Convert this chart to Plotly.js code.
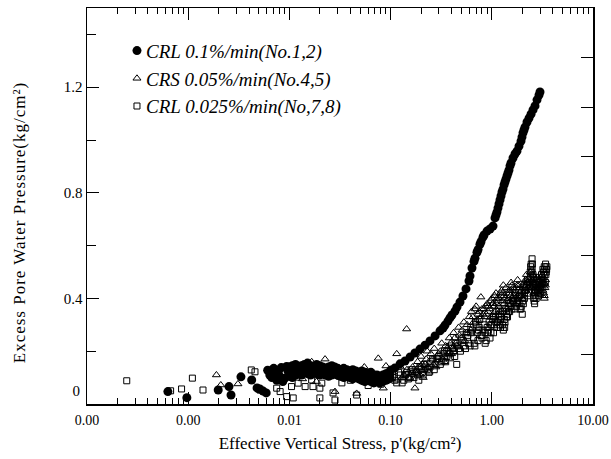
<!DOCTYPE html>
<html>
<head>
<meta charset="utf-8">
<script src="https://cdn.plot.ly/plotly-3.0.1.min.js"></script>
<style>
  html, body { margin: 0; padding: 0; background: #fff; }
  #chart { width: 611px; height: 459px; }
  #chart .annotation-text { letter-spacing: 1px; }
  #chart .legend .legendpoints { transform: translate(11px, 0px); }
</style>
</head>
<body>
<div id="chart"></div>
<script>
// ---- Data ----
// CRL 0.1%/min (No.1,2) — filled circles
const circEarlyX = [0.00063, 0.00097, 0.00198, 0.00253, 0.00265, 0.00332, 0.00424, 0.00479, 0.0051, 0.0055, 0.0059,
  0.0061, 0.0064, 0.0067, 0.0070, 0.0072, 0.0075, 0.0078, 0.0080, 0.0083, 0.0086, 0.0090, 0.0094, 0.0097];
const circEarlyY = [0.047, 0.024, 0.053, 0.066, 0.034, 0.103, 0.091, 0.061, 0.057, 0.049, 0.042,
  0.128, 0.110, 0.100, 0.135, 0.115, 0.090, 0.125, 0.105, 0.138, 0.085, 0.098, 0.142, 0.124];

const circBandX = [0.0100, 0.0107, 0.0115, 0.0123, 0.0132, 0.0141, 0.0151, 0.0162, 0.0173, 0.0186, 0.0199, 0.0213,
  0.0228, 0.0244, 0.0262, 0.0280, 0.0300, 0.0322, 0.0344, 0.0369, 0.0395, 0.0423, 0.0453, 0.0485, 0.0520, 0.0557,
  0.0596, 0.0639, 0.0684, 0.0733, 0.0785, 0.0840, 0.0900, 0.0964];
const circBandUpperY = [0.140, 0.145, 0.150, 0.140, 0.145, 0.150, 0.155, 0.145, 0.140, 0.150, 0.145, 0.140,
  0.135, 0.140, 0.145, 0.140, 0.135, 0.130, 0.135, 0.130, 0.125, 0.130, 0.125, 0.120, 0.125, 0.120,
  0.115, 0.120, 0.110, 0.110, 0.105, 0.110, 0.115, 0.120];
const circBandLowerY = [0.105, 0.100, 0.110, 0.115, 0.110, 0.120, 0.115, 0.110, 0.120, 0.115, 0.110, 0.115,
  0.110, 0.105, 0.110, 0.115, 0.110, 0.105, 0.100, 0.105, 0.100, 0.095, 0.100, 0.095, 0.090, 0.085,
  0.090, 0.085, 0.080, 0.085, 0.080, 0.085, 0.090, 0.095];
const circBandMidX = [0.0103, 0.0111, 0.0119, 0.0127, 0.0136, 0.0146, 0.0156, 0.0167, 0.0180, 0.0192, 0.0206, 0.0220,
  0.0236, 0.0253, 0.0271, 0.0290, 0.0311, 0.0333, 0.0356, 0.0382, 0.0409, 0.0438, 0.0469, 0.0502, 0.0538, 0.0576,
  0.0617, 0.0661, 0.0708, 0.0758, 0.0812, 0.0870, 0.0932, 0.0980];
const circBandMidY = [0.125, 0.130, 0.128, 0.132, 0.127, 0.135, 0.133, 0.128, 0.130, 0.133, 0.128, 0.125,
  0.123, 0.125, 0.128, 0.127, 0.122, 0.118, 0.120, 0.117, 0.113, 0.112, 0.110, 0.108, 0.107, 0.103,
  0.100, 0.100, 0.095, 0.095, 0.092, 0.097, 0.103, 0.110];

const circRiseX = [0.101, 0.110, 0.124, 0.139, 0.156, 0.174, 0.195, 0.219, 0.245, 0.275, 0.308, 0.330, 0.345, 0.369,
  0.386, 0.404, 0.433, 0.453, 0.485, 0.519, 0.556, 0.595, 0.609, 0.637, 0.667, 0.682, 0.714, 0.731, 0.764, 0.782,
  0.818, 0.838, 0.897, 0.960, 1.028, 1.076, 1.100, 1.125, 1.151, 1.178, 1.205, 1.233, 1.262, 1.291, 1.321, 1.350,
  1.381, 1.413, 1.446, 1.479, 1.514, 1.549, 1.620, 1.695, 1.774, 1.858, 1.944, 1.988, 2.034, 2.081, 2.129, 2.229,
  2.333, 2.440, 2.553, 2.673, 2.798, 2.926, 2.994];
const circRiseY = [0.129, 0.136, 0.152, 0.163, 0.178, 0.193, 0.208, 0.223, 0.239, 0.258, 0.277, 0.288, 0.299, 0.314,
  0.326, 0.337, 0.352, 0.367, 0.386, 0.409, 0.436, 0.466, 0.485, 0.515, 0.540, 0.552, 0.575, 0.585, 0.605, 0.615,
  0.632, 0.640, 0.655, 0.663, 0.674, 0.705, 0.716, 0.727, 0.742, 0.758, 0.773, 0.788, 0.803, 0.814, 0.830, 0.841,
  0.852, 0.864, 0.875, 0.886, 0.902, 0.913, 0.932, 0.947, 0.958, 0.977, 0.996, 1.011, 1.027, 1.038, 1.049, 1.068,
  1.083, 1.098, 1.114, 1.129, 1.152, 1.170, 1.182];

// CRS 0.05%/min (No.4,5) — open triangles
const triX = [0.0019, 0.0021, 0.0031, 0.0101, 0.0105, 0.0125, 0.0135, 0.0166, 0.0185, 0.0225, 0.0250, 0.0282, 0.0320,
  0.0400, 0.0462, 0.0550, 0.0650, 0.0755, 0.0847, 0.0900, 0.1000, 0.1150, 0.1300, 0.1440, 0.1500, 0.1680, 0.1740,
  0.1900, 0.2000, 0.2100, 0.2200, 0.2300, 0.2400, 0.2600, 0.2700, 0.2800, 0.3000, 0.3200, 0.3400, 0.3600, 0.3800,
  0.4000, 0.4200, 0.4400, 0.4700, 0.5000, 0.5300, 0.5600, 0.6000, 0.6300, 0.6600, 0.7000, 0.7300, 0.7800, 0.8000,
  0.8500, 0.9000, 0.9500, 1.000, 1.050, 1.100, 1.150, 1.200, 1.250, 1.300, 1.350, 1.400, 1.500, 1.550, 1.600, 1.700,
  1.800, 1.900, 2.000, 2.100, 2.200, 2.300, 2.400, 2.500, 2.600, 2.700, 2.800, 2.900, 3.000, 3.100, 3.200, 3.300,
  3.300, 3.350, 3.400];
const triY = [0.110, 0.072, 0.076, 0.140, 0.120, 0.135, 0.095, 0.160, 0.085, 0.170, 0.120, 0.047, 0.100,
  0.115, 0.040, 0.140, 0.095, 0.173, 0.060, 0.144, 0.100, 0.190, 0.100, 0.284, 0.120, 0.190, 0.060,
  0.140, 0.180, 0.100, 0.150, 0.200, 0.120, 0.170, 0.210, 0.140, 0.190, 0.230, 0.160, 0.210, 0.250,
  0.190, 0.270, 0.230, 0.290, 0.250, 0.310, 0.270, 0.330, 0.350, 0.310, 0.370, 0.340, 0.405, 0.360,
  0.330, 0.380, 0.360, 0.400, 0.370, 0.420, 0.390, 0.350, 0.430, 0.450, 0.400, 0.360, 0.420, 0.460, 0.430, 0.380,
  0.470, 0.440, 0.400, 0.460, 0.490, 0.440, 0.500, 0.470, 0.420, 0.450, 0.480, 0.440, 0.470, 0.450, 0.430, 0.410,
  0.400, 0.440, 0.470];
const triX2 = [0.105, 0.115, 0.125, 0.135, 0.145, 0.155, 0.165, 0.175, 0.185, 0.195, 0.205, 0.215, 0.225, 0.235,
  0.250, 0.265, 0.285, 0.310, 0.330, 0.350, 0.370, 0.390, 0.410, 0.430, 0.450, 0.480, 0.510, 0.540, 0.570, 0.620,
  0.650, 0.680, 0.720, 0.750, 0.820, 0.870, 0.920, 0.970, 1.020, 1.070, 1.120, 1.170, 1.220, 1.270, 1.320, 1.380,
  1.450, 1.520, 1.580, 1.650, 1.750, 1.850, 1.950, 2.050, 2.150, 2.250, 2.350, 2.450, 2.550, 2.650, 2.750, 2.850,
  2.950, 3.050, 3.150, 3.250];
const triY2 = [0.120, 0.090, 0.140, 0.110, 0.130, 0.100, 0.140, 0.120, 0.160, 0.110, 0.150, 0.130, 0.170, 0.140,
  0.190, 0.150, 0.180, 0.200, 0.170, 0.220, 0.190, 0.230, 0.210, 0.250, 0.220, 0.260, 0.280, 0.240, 0.300, 0.280,
  0.330, 0.360, 0.320, 0.350, 0.340, 0.370, 0.350, 0.390, 0.380, 0.410, 0.380, 0.400, 0.420, 0.390, 0.410, 0.440,
  0.400, 0.430, 0.450, 0.410, 0.440, 0.450, 0.430, 0.450, 0.470, 0.460, 0.480, 0.450, 0.490, 0.440, 0.460, 0.430,
  0.450, 0.480, 0.460, 0.420];
const triX3 = [0.78, 0.83, 0.88, 0.93, 0.98, 1.03, 1.08, 1.13, 1.18, 1.23, 1.28, 1.33, 1.42, 1.47, 1.53, 1.62, 1.68,
  1.78, 1.88, 1.98, 2.08, 2.18, 2.28, 2.38, 2.48, 2.58, 2.68, 2.78, 2.88, 2.98, 3.08, 3.18, 3.28, 3.38];
const triY3 = [0.33, 0.36, 0.34, 0.37, 0.33, 0.38, 0.35, 0.40, 0.37, 0.41, 0.42, 0.38, 0.39, 0.43, 0.41, 0.44, 0.40,
  0.45, 0.42, 0.41, 0.44, 0.43, 0.46, 0.47, 0.44, 0.46, 0.43, 0.47, 0.42, 0.45, 0.47, 0.44, 0.46, 0.45];

// CRL 0.025%/min (No,7,8) — open squares
const sqX = [0.000247, 0.00067, 0.00086, 0.0011, 0.0014, 0.0042, 0.00457, 0.00512, 0.00749, 0.0081, 0.0094, 0.0105,
  0.0109, 0.0122, 0.0143, 0.0166, 0.0171, 0.0200, 0.0200, 0.0209, 0.0270, 0.0282, 0.0330, 0.0400, 0.0462, 0.0500,
  0.0550, 0.0600, 0.0650, 0.0700, 0.0750, 0.0800, 0.0900, 0.1000,
  0.110, 0.120, 0.130, 0.140, 0.150, 0.160, 0.170, 0.180, 0.190, 0.200, 0.210, 0.220, 0.240, 0.250, 0.270, 0.290,
  0.310, 0.330, 0.350, 0.370, 0.390, 0.410, 0.430, 0.450, 0.460, 0.490, 0.520, 0.550, 0.580, 0.610, 0.640, 0.670,
  0.700, 0.730, 0.760, 0.800, 0.840, 0.880, 0.920, 0.960, 1.000, 1.040, 1.080, 1.120, 1.160, 1.200, 1.250, 1.300,
  1.350, 1.400, 1.450, 1.500, 1.600, 1.700, 1.750, 1.850, 1.900, 2.000, 2.100, 2.200, 2.300, 2.400, 2.450, 2.500,
  2.550, 2.600, 2.650, 2.700, 2.800, 2.900, 3.000, 3.100, 3.200, 3.300, 3.400, 3.450, 3.500];
const sqY = [0.088, 0.050, 0.057, 0.098, 0.053, 0.129, 0.122, 0.053, 0.060, 0.047, 0.028, 0.066,
  0.023, 0.079, 0.066, 0.091, 0.066, 0.060, 0.023, 0.079, 0.042, 0.015, 0.080, 0.090, 0.034, 0.100,
  0.085, 0.070, 0.100, 0.080, 0.095, 0.075, 0.090, 0.100,
  0.090, 0.120, 0.080, 0.110, 0.095, 0.130, 0.100, 0.120, 0.090, 0.130, 0.110, 0.140, 0.120, 0.160, 0.130, 0.170,
  0.150, 0.190, 0.160, 0.200, 0.175, 0.210, 0.180, 0.150, 0.220, 0.200, 0.240, 0.210, 0.260, 0.220, 0.280, 0.230,
  0.300, 0.240, 0.320, 0.250, 0.300, 0.240, 0.280, 0.250, 0.300, 0.270, 0.330, 0.290, 0.360, 0.300, 0.330, 0.280,
  0.310, 0.340, 0.370, 0.350, 0.390, 0.410, 0.370, 0.430, 0.360, 0.340, 0.400, 0.450, 0.420, 0.500, 0.530, 0.550,
  0.490, 0.400, 0.380, 0.430, 0.470, 0.410, 0.440, 0.490, 0.510, 0.520, 0.530, 0.500, 0.520];
const sqX2 = [0.105, 0.115, 0.125, 0.135, 0.145, 0.155, 0.165, 0.175, 0.185, 0.195, 0.205, 0.215, 0.230, 0.245,
  0.260, 0.280, 0.300, 0.320, 0.340, 0.360, 0.380, 0.400, 0.420, 0.440, 0.470, 0.500, 0.530, 0.560, 0.590, 0.620,
  0.660, 0.690, 0.720, 0.750, 0.780, 0.820, 0.860, 0.900, 0.940, 0.980, 1.020, 1.060, 1.100, 1.140, 1.180, 1.220,
  1.280, 1.330, 1.380, 1.430, 1.480, 1.550, 1.650, 1.720, 1.800, 1.880, 1.950, 2.050, 2.150, 2.250, 2.350, 2.420,
  2.480, 2.520, 2.580, 2.620, 2.680, 2.750, 2.850, 2.950, 3.050, 3.150, 3.250, 3.350, 3.420, 3.480];
const sqY2 = [0.100, 0.080, 0.110, 0.090, 0.120, 0.100, 0.115, 0.130, 0.110, 0.140, 0.120, 0.150, 0.130, 0.140,
  0.170, 0.150, 0.180, 0.160, 0.200, 0.180, 0.190, 0.220, 0.200, 0.230, 0.210, 0.250, 0.220, 0.270, 0.230, 0.290,
  0.250, 0.310, 0.270, 0.290, 0.260, 0.280, 0.270, 0.290, 0.310, 0.270, 0.320, 0.300, 0.350, 0.310, 0.330, 0.290,
  0.300, 0.320, 0.360, 0.330, 0.380, 0.370, 0.400, 0.420, 0.390, 0.410, 0.370, 0.380, 0.430, 0.470, 0.450, 0.520,
  0.500, 0.530, 0.450, 0.390, 0.410, 0.450, 0.430, 0.460, 0.420, 0.470, 0.500, 0.510, 0.490, 0.510];
const sqX3 = [0.62, 0.68, 0.74, 0.80, 0.86, 0.92, 0.98, 1.04, 1.10, 1.16, 1.22, 1.28, 1.34, 1.40, 1.46, 1.52, 1.58,
  1.64, 1.70, 1.78, 1.86, 1.94, 2.02, 2.10, 2.18, 2.26, 2.34, 2.42, 2.50, 2.58, 2.66, 2.74, 2.82, 2.90, 2.98, 3.06,
  3.14, 3.22, 3.30, 3.38];
const sqY3 = [0.27, 0.22, 0.28, 0.26, 0.23, 0.27, 0.30, 0.33, 0.31, 0.34, 0.32, 0.35, 0.29, 0.33, 0.35, 0.38, 0.36,
  0.39, 0.36, 0.40, 0.38, 0.36, 0.39, 0.42, 0.44, 0.41, 0.46, 0.48, 0.51, 0.48, 0.42, 0.40, 0.44, 0.46, 0.42, 0.45,
  0.48, 0.47, 0.49, 0.46];

// Axis tick labels, titles and series names
const xTickVals = [0.0001, 0.001, 0.01, 0.1, 1, 10];
const xTickText = ['0.00', '0.00', '0.01', '0.10', '1.00', '10.00'];
const yTickVals = [0.4, 0.8, 1.2];
const yTickText = ['0.4', '0.8', '1.2'];
const yZeroLabelVal = [0.05];
const yZeroLabelText = ['0'];
const seriesNames = ['CRL 0.1%/min(No.1,2)', 'CRS 0.05%/min(No.4,5)', 'CRL 0.025%/min(No,7,8)'];
const xTitle = "Effective Vertical Stress, p'(kg/cm²)";
const yTitle = 'Excess Pore Water Pressure(kg/cm²)';

// ---- Build ----
const xMinor = [];
for (let k = -4; k <= 0; k++) for (let m = 2; m <= 9; m++) xMinor.push(m * Math.pow(10, k));

const serif = 'Liberation Serif, DejaVu Serif, serif';

const circX = circEarlyX.concat(circBandX, circBandX, circBandMidX, circRiseX);
const circY = circEarlyY.concat(circBandUpperY, circBandLowerY, circBandMidY, circRiseY);

const traces = [
  { type: 'scatter', mode: 'markers', name: seriesNames[0], x: circX, y: circY,
    marker: { symbol: 'circle', size: 9, color: '#000' } },
  { type: 'scatter', mode: 'markers', name: seriesNames[1],
    x: triX.concat(triX2, triX3), y: triY.concat(triY2, triY3),
    marker: { symbol: 'triangle-up-open', size: 7, color: '#000', line: { width: 1, color: '#000' } } },
  { type: 'scatter', mode: 'markers', name: seriesNames[2],
    x: sqX.concat(sqX2, sqX3), y: sqY.concat(sqY2, sqY3),
    marker: { symbol: 'square-open', size: 6, color: '#000', line: { width: 1, color: '#000' } } },
  { type: 'scatter', mode: 'markers', x: [], y: [], yaxis: 'y2', showlegend: false, hoverinfo: 'skip' },
  { type: 'scatter', mode: 'markers', x: [], y: [], yaxis: 'y3', showlegend: false, hoverinfo: 'skip' }
];

const layout = {
  width: 611, height: 459,
  margin: { l: 87, r: 18, t: 8, b: 55 },
  paper_bgcolor: '#fff', plot_bgcolor: '#fff',
  font: { family: serif, color: '#000' },
  showlegend: true,
  legend: {
    x: 0.0375, y: 0.94, xanchor: 'left', yanchor: 'top',
    bgcolor: 'rgba(0,0,0,0)', borderwidth: 0,
    font: { family: serif, size: 19, style: 'italic', color: '#000' },
    itemwidth: 30, tracegroupgap: 0
  },
  xaxis: {
    type: 'log', range: [-4, 1],
    tickmode: 'array', tickvals: xTickVals, ticktext: xTickText,
    ticks: 'inside', ticklen: 12, tickwidth: 1, tickcolor: '#000',
    minor: { tickmode: 'array', tickvals: xMinor, ticks: 'inside', ticklen: 6, tickwidth: 1, tickcolor: '#000' },
    showline: true, linecolor: '#000', linewidth: 1.5, mirror: 'ticks',
    showgrid: false, zeroline: false, ticklabelstandoff: 3,
    tickfont: { family: serif, size: 14, color: '#000' },
    title: { text: xTitle, font: { family: serif, size: 17, color: '#000' }, standoff: 10 }
  },
  yaxis: {
    range: [0, 1.5],
    tickmode: 'array', tickvals: yTickVals, ticktext: yTickText,
    ticks: 'inside', ticklen: 12, tickwidth: 1, tickcolor: '#000',
    minor: { tickmode: 'array', tickvals: [0.2, 0.6, 1.0, 1.4], ticks: 'inside', ticklen: 9, tickwidth: 1, tickcolor: '#000' },
    showline: true, linecolor: '#000', linewidth: 1.5, mirror: false,
    showgrid: false, zeroline: false,
    tickfont: { family: serif, size: 15, color: '#000' }
  },
  yaxis2: {
    overlaying: 'y', side: 'right', range: [0, 8],
    tickmode: 'array', tickvals: [1, 2, 3, 4, 5, 6, 7],
    ticks: 'inside', ticklen: 12, tickwidth: 1, tickcolor: '#000',
    showticklabels: false, showline: true, linecolor: '#000', linewidth: 1.5,
    showgrid: false, zeroline: false
  },
  yaxis3: {
    overlaying: 'y', side: 'left', range: [0, 1.5],
    tickmode: 'array', tickvals: yZeroLabelVal, ticktext: yZeroLabelText,
    ticks: '', showline: false, showgrid: false, zeroline: false, ticklabelstandoff: 6,
    tickfont: { family: serif, size: 15, color: '#000' }
  },
  annotations: [{
    text: yTitle, textangle: -90, showarrow: false,
    xref: 'paper', yref: 'paper', x: -0.134, y: 0.457, xanchor: 'center', yanchor: 'middle',
    font: { family: serif, size: 17, color: '#000' }
  }]
};

Plotly.newPlot('chart', traces, layout, { displayModeBar: false, staticPlot: true });
</script>
</body>
</html>
